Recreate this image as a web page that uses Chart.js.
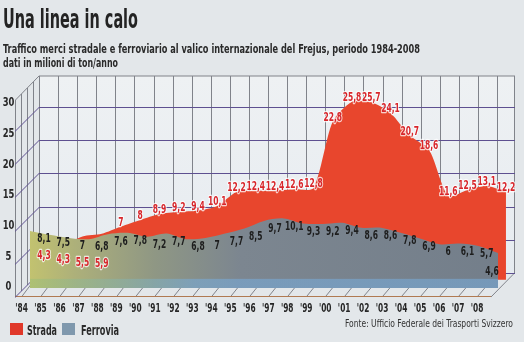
<!DOCTYPE html>
<html>
<head>
<meta charset="utf-8">
<script src="https://cdn.jsdelivr.net/npm/chart.js@4.4.1/dist/chart.umd.min.js"></script>
<style>
  html, body { margin: 0; padding: 0; background: #e3e7ea; }
  #wrap { position: relative; width: 524px; height: 342px; overflow: hidden; }
  #wrap canvas { position: absolute; left: 0; top: 0; }
  .t {
    position: absolute; white-space: nowrap; line-height: 1; transform-origin: 0 0;
    color: #2a2a2a; font-weight: bold;
    font-family: "DejaVu Sans Condensed", "Liberation Sans", sans-serif;
  }
  .sq { position: absolute; width: 13px; height: 12px; }
</style>
</head>
<body>
<div id="wrap">
  <canvas id="chart" width="524" height="342"></canvas>
  <div class="t" data-w="135" style="left:3px;top:6px;font-size:26px;color:#232323">Una linea in calo</div>
  <div class="t" data-w="417" style="left:3px;top:42px;font-size:13px">Traffico merci stradale e ferroviario al valico internazionale del Frejus, periodo 1984-2008</div>
  <div class="t" data-w="115" style="left:3px;top:56px;font-size:13px">dati in milioni di ton/anno</div>
  <span class="sq" style="left:10px;top:323px;background:#e0382a"></span>
  <div class="t" data-w="30" style="left:27px;top:323px;font-size:14px">Strada</div>
  <span class="sq" style="left:62px;top:323px;background:#7f98ad"></span>
  <div class="t" data-w="38" style="left:81px;top:323px;font-size:14px">Ferrovia</div>
  <div class="t" data-w="168" style="left:345px;top:318px;font-size:11px;font-weight:normal;color:#333">Fonte: Ufficio Federale dei Trasporti Svizzero</div>
</div>
<script>
// dati: milioni di tonnellate/anno, valico del Frejus
const years = ["'84", "'85", "'86", "'87", "'88", "'89", "'90", "'91", "'92", "'93", "'94", "'95", "'96",
               "'97", "'98", "'99", "'00", "'01", "'02", "'03", "'04", "'05", "'06", "'07", "'08"];
const strada = [4.3, 4.3, 5.5, 5.9, 7, 8, 8.9, 9.2, 9.4, 10.1, 12.2, 12.4, 12.4,
                12.6, 12.8, 22.8, 25.8, 25.7, 24.1, 20.7, 18.6, 11.6, 12.5, 13.1, 12.2];
const ferrovia = [8.1, 7.5, 7, 6.8, 7.6, 7.8, 7.2, 7.7, 6.8, 7, 7.7, 8.5, 9.7,
                  10.1, 9.3, 9.2, 9.4, 8.6, 8.6, 7.8, 6.9, 6, 6.1, 5.7, 4.6];
const yTicks = [0, 5, 10, 15, 20, 25, 30];

const FONT = '"DejaVu Sans Condensed", "Liberation Sans", sans-serif';
const fmt = v => String(v).replace('.', ',');

// squeeze the html texts to the widths of the printed ones
document.querySelectorAll('.t').forEach(el => {
  const w = el.getBoundingClientRect().width;
  el.style.transform = 'scaleX(' + (el.dataset.w / w) + ')';
});

// narrow text on the canvas (the print uses a condensed face)
function squeezed(ctx, text, x, y, k, halo) {
  ctx.save();
  ctx.translate(x, y);
  ctx.scale(k, 1);
  if (halo) ctx.strokeText(text, 0, 0);
  ctx.fillText(text, 0, 0);
  ctx.restore();
}

// back wall, side wall and floor of the 3d box
const wall = {
  id: 'wall',
  beforeDatasetsDraw(chart) {
    const { ctx, chartArea: a, scales: s } = chart;
    const backLeft = s.xG.getPixelForValue(0);
    const floorY = s.yS.getPixelForValue(0);
    const dx = backLeft - a.left, dy = a.bottom - floorY;
    ctx.save();
    const g = ctx.createLinearGradient(0, a.top, 0, floorY);
    g.addColorStop(0, '#eef1f3');
    g.addColorStop(1, '#e6ebf0');
    ctx.fillStyle = g;
    ctx.fillRect(backLeft, a.top, a.right - backLeft, floorY - a.top);

    ctx.lineWidth = 1;
    ctx.strokeStyle = '#80838a';
    ctx.beginPath();
    years.forEach((y, i) => {
      const x = Math.round(s.xG.getPixelForValue(i)) + 0.5;
      ctx.moveTo(x, a.top); ctx.lineTo(x, floorY);
      ctx.moveTo(x, floorY); ctx.lineTo(s.xL.getPixelForValue(i), a.bottom);
    });
    // side wall depth lines
    [0.25, 0.5, 0.75].forEach(k => {
      const x = Math.round(a.left + dx * k) + 0.5;
      ctx.moveTo(x, a.top + dy * (1 - k)); ctx.lineTo(x, floorY + dy * (1 - k));
    });
    ctx.moveTo(a.right - 0.5, a.top); ctx.lineTo(a.right - 0.5, floorY);
    ctx.lineTo(a.right - dx, a.bottom);
    ctx.moveTo(a.left + 0.5, a.bottom); ctx.lineTo(a.left + 0.5, a.top + dy);
    ctx.lineTo(backLeft, a.top); ctx.lineTo(a.right, a.top);
    ctx.stroke();

    ctx.strokeStyle = '#b07a52';
    ctx.beginPath();
    ctx.moveTo(a.left, a.bottom - 0.5); ctx.lineTo(a.right - dx, a.bottom - 0.5);
    ctx.stroke();

    ctx.strokeStyle = '#5e5090';
    ctx.beginPath();
    yTicks.forEach(v => {
      const y = Math.round(s.yS.getPixelForValue(v)) + 0.5;
      if (y <= a.top + 2) return;
      ctx.moveTo(a.left, y + dy); ctx.lineTo(backLeft, y); ctx.lineTo(a.right, y);
    });
    ctx.stroke();
    ctx.restore();
  }
};

// blue strip at the foot of the front area
const band = {
  id: 'band',
  afterDatasetDraw(chart, args) {
    if (args.index !== 0) return;
    const { ctx, scales: s } = chart;
    const pts = args.meta.data;
    const y0 = s.yF.getPixelForValue(0.5), y1 = s.yF.getPixelForValue(-0.95);
    const g = ctx.createLinearGradient(pts[0].x, 0, pts[pts.length - 1].x, 0);
    g.addColorStop(0, 'rgba(150,190,120,0.45)');
    g.addColorStop(0.35, 'rgba(120,170,215,0.6)');
    g.addColorStop(1, 'rgba(120,170,215,0.6)');
    ctx.save();
    ctx.fillStyle = g;
    ctx.fillRect(pts[0].x, y0, pts[pts.length - 1].x - pts[0].x, y1 - y0);
    ctx.restore();
  }
};

// tick labels and value labels
const labels = {
  id: 'labels',
  afterDatasetsDraw(chart) {
    const { ctx, chartArea: a, scales: s } = chart;
    const f = chart.getDatasetMeta(0).data, r = chart.getDatasetMeta(1).data;
    ctx.save();
    ctx.textAlign = 'center';
    ctx.textBaseline = 'middle';
    ctx.fillStyle = '#262626';
    ctx.font = 'bold 13px ' + FONT;
    yTicks.forEach(v => squeezed(ctx, String(v), 8.5, s.yL.getPixelForValue(v), 0.72));
    ctx.font = 'bold 12.5px ' + FONT;
    years.forEach((t, i) => squeezed(ctx, t, s.xL.getPixelForValue(i), a.bottom + 12, 0.66));

    const greyY = [];
    ctx.font = 'bold 12px ' + FONT;
    ctx.fillStyle = '#1d1d1d';
    ferrovia.forEach((v, i) => {
      const last = i === ferrovia.length - 1;
      const x = last ? f[i].x - 6 : r[i].x;
      const y = f[i].y + (last ? 19 : 8);
      greyY[i] = y;
      squeezed(ctx, fmt(v), x, y, 0.7);
    });
    ctx.lineWidth = 2.5;
    ctx.lineJoin = 'round';
    ctx.strokeStyle = 'rgba(255,255,255,0.75)';
    ctx.fillStyle = '#d8262b';
    strada.forEach((v, i) => {
      const y = ferrovia[i] - v > 0.75 ? greyY[i] + 17 : r[i].y - 4;
      squeezed(ctx, fmt(v), r[i].x, y, 0.7, true);
    });
    ctx.restore();
  }
};

const ctx = document.getElementById('chart').getContext('2d');
new Chart(ctx, {
  type: 'line',
  data: {
    datasets: [
      {
        label: 'Ferrovia',
        data: ferrovia.map((v, i) => ({ x: i, y: v })),
        xAxisID: 'xF', yAxisID: 'yF',
        borderWidth: 0, pointRadius: 0, tension: 0.3,
        fill: { value: -0.95 },
        backgroundColor: c => {
          const a = c.chart.chartArea;
          if (!a) return '#7a8590';
          const g = c.chart.ctx.createLinearGradient(a.left, 0, a.right, 0);
          g.addColorStop(0, '#c9c86c');
          g.addColorStop(0.12, '#adb07a');
          g.addColorStop(0.28, '#8f9784');
          g.addColorStop(0.45, '#7c8690');
          g.addColorStop(1, '#737e8a');
          return g;
        }
      },
      {
        label: 'Strada',
        data: strada.map((v, i) => ({ x: i, y: v })),
        xAxisID: 'xS', yAxisID: 'yS',
        borderWidth: 0, pointRadius: 0, tension: 0.25,
        fill: { value: -1 },
        backgroundColor: '#e8462d'
      }
    ]
  },
  options: {
    responsive: false,
    animation: false,
    layout: { padding: { left: 15, right: 9, top: 76, bottom: 45 } },
    plugins: { legend: { display: false }, tooltip: { enabled: false } },
    scales: {
      // front axes, carrying the printed tick labels
      xL: { axis: 'x', type: 'linear', display: false, min: -0.342, max: 26 },
      yL: { axis: 'y', type: 'linear', display: false, min: -1.63, max: 34.4 },
      // back wall grid
      xG: { axis: 'x', type: 'linear', display: false, min: -1.258, max: 24.94 },
      // front row (ferrovia) and back row (strada) of the 3d box
      xF: { axis: 'x', type: 'linear', display: false, min: -0.769, max: 24.87 },
      yF: { axis: 'y', type: 'linear', display: false, min: -2.38, max: 32.7 },
      xS: { axis: 'x', type: 'linear', display: false, min: -1.506, max: 24.47 },
      yS: { axis: 'y', type: 'linear', display: false, min: -3.61, max: 29.67 }
    }
  },
  plugins: [wall, band, labels]
});
</script>
</body>
</html>
